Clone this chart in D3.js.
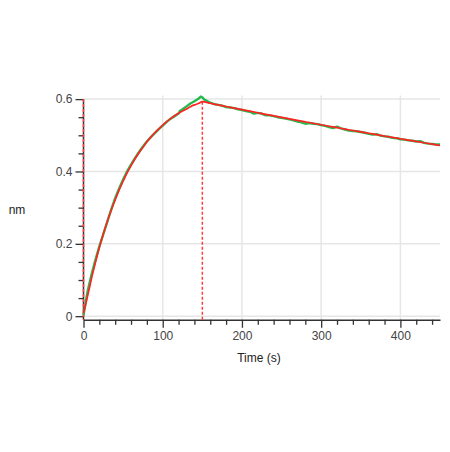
<!DOCTYPE html>
<html><head><meta charset="utf-8">
<script src="https://cdn.jsdelivr.net/npm/d3@7"></script>
<style>body{margin:0;background:#fff}svg{display:block}</style>
</head><body>
<script>
// Fit curve (red)
const fitTime = [0,5,10,15,20,25,30,35,40,45,50,55,60,65,70,75,80,85,90,95,100,105,110,115,120,125,130,135,140,145,150,
  160,170,180,190,200,210,220,230,240,250,260,270,280,290,300,310,320,330,340,350,360,370,380,390,400,410,420,430,440,450];
const fitValue = [0.008,0.054,0.103,0.148,0.190,0.227,0.262,0.293,0.322,0.349,0.373,0.396,0.416,0.435,0.452,0.467,0.482,0.495,0.507,0.518,0.528,0.538,0.546,0.554,0.561,0.567,0.573,0.579,0.584,0.588,0.593,
  0.5885,0.584,0.5796,0.5752,0.5709,0.5666,0.5623,0.558,0.5538,0.5496,0.5455,0.5414,0.5373,0.5332,0.5291,0.5251,0.5212,0.5172,0.5133,0.5094,0.5056,0.5017,0.4979,0.4942,0.4904,0.4867,0.483,0.4794,0.4757,0.4721];
// Measured data (green)
const dataTime = [0,5,10,15,20,25,30,35,40,45,50,55,60,65,70,75,80,85,90,95,100,105,110,115,120,122,125,130,135,140,145,148,150,153,
  155,160,165,170,175,180,185,190,195,200,205,210,215,220,225,230,235,240,245,250,255,260,265,270,275,280,285,290,295,300,
  305,310,315,320,325,330,335,340,345,350,355,360,365,370,375,380,385,390,395,400,405,410,415,420,425,430,435,440,445,450];
const dataValue = [0.003,0.067,0.114,0.155,0.193,0.227,0.261,0.295,0.326,0.353,0.378,0.400,0.419,0.437,0.453,0.469,0.483,0.495,0.506,0.517,0.527,0.537,0.546,0.553,0.560,0.568,0.572,0.580,0.588,0.594,0.601,0.607,0.605,0.598,
  0.596,0.590,0.586,0.584,0.582,0.578,0.577,0.575,0.572,0.570,0.567,0.565,0.560,0.562,0.560,0.555,0.555,0.553,0.550,0.548,0.546,0.544,0.541,0.538,0.536,0.532,0.534,0.532,0.531,0.528,
  0.526,0.523,0.520,0.524,0.519,0.516,0.513,0.512,0.511,0.509,0.507,0.504,0.502,0.503,0.499,0.497,0.496,0.493,0.492,0.489,0.488,0.486,0.485,0.483,0.484,0.479,0.477,0.476,0.475,0.475];
const xTicks = [0,100,200,300,400];
const xMinorTicks = [20,40,60,80,120,140,160,180,220,240,260,280,320,340,360,380,420,440];
const yTicks = [0,0.2,0.4,0.6];
const yTickLabels = ["0","0.2","0.4","0.6"];
const yMinorTicks = [0.05,0.1,0.15,0.25,0.3,0.35,0.45,0.5,0.55];
const markerTimes = [0,150];
const markerTops = [0.6,0.593];
const xLabel = "Time (s)";
const yLabel = "nm";

const W = 450, H = 452;
const svg = d3.select("body").append("svg").attr("width", W).attr("height", H);
const x = d3.scaleLinear().domain([0,450]).range([83.5,440]);
const y = d3.scaleLinear().domain([-0.01,0.61]).range([319.8,95.5]);
const axisColor = "#333";

// gridlines
const g = svg.append("g");
g.selectAll("line.gx").data(xTicks.filter(d=>d>0)).enter().append("line")
  .attr("x1",d=>x(d)).attr("x2",d=>x(d)).attr("y1",y(-0.01)).attr("y2",y(0.61))
  .attr("stroke","#e6e6e6").attr("stroke-width",1.5);
g.selectAll("line.gy").data(yTicks).enter().append("line")
  .attr("x1",x(0)).attr("x2",x(450)).attr("y1",d=>y(d)).attr("y2",d=>y(d))
  .attr("stroke","#e6e6e6").attr("stroke-width",1.5);

// axes
svg.append("g").attr("transform",`translate(0,${y(-0.01)})`)
  .call(d3.axisBottom(x).tickValues(xTicks).tickSize(8).tickSizeOuter(0).tickPadding(4).tickFormat(d3.format("d")));
svg.append("g").attr("transform",`translate(0,${y(-0.01)})`)
  .call(d3.axisBottom(x).tickValues(xMinorTicks).tickSize(5).tickSizeOuter(0).tickFormat(""))
  .select(".domain").remove();
const yAxis = svg.append("g").attr("transform",`translate(${x(0)},0)`)
  .call(d3.axisLeft(y).tickValues(yTicks).tickSize(8).tickSizeOuter(0).tickPadding(3).tickFormat((d,i)=>yTickLabels[i]));
svg.append("g").attr("transform",`translate(${x(0)},0)`)
  .call(d3.axisLeft(y).tickValues(yMinorTicks).tickSize(5).tickSizeOuter(0).tickFormat(""))
  .select(".domain").remove();
yAxis.select(".domain").attr("d",`M0,${y(0.6)}V${y(-0.01)}`);
svg.selectAll(".domain").attr("stroke",axisColor).attr("stroke-width",1.5);
svg.selectAll(".tick line").attr("stroke",axisColor).attr("stroke-width",1.3);
svg.selectAll(".tick text").attr("fill","#444").attr("font-family","Liberation Sans, Arial, sans-serif").attr("font-size",12);

// marker lines
svg.selectAll("line.mk").data(markerTimes).enter().append("line")
  .attr("x1",d=>x(d)).attr("x2",d=>x(d)).attr("y1",(d,i)=>y(markerTops[i])).attr("y2",y(-0.01))
  .attr("stroke","#ff3b3b").attr("stroke-width",1.5).attr("stroke-dasharray","3,2");

// curves
const dataPts = dataTime.map((t,i)=>[t,dataValue[i]]);
const fitPts = fitTime.map((t,i)=>[t,fitValue[i]]);
const line = d3.line().x(d=>x(d[0])).y(d=>y(d[1]));
svg.append("path").datum(dataPts).attr("d",line).attr("fill","none").attr("stroke","#27b84e").attr("stroke-width",2.4).attr("stroke-linejoin","round");
svg.append("path").datum(fitPts).attr("d",d3.line().curve(d3.curveMonotoneX).x(d=>x(d[0])).y(d=>y(d[1])))
  .attr("fill","none").attr("stroke","#ff2424").attr("stroke-width",1.7);

// labels
svg.append("text").attr("x",259).attr("y",362).attr("text-anchor","middle")
  .attr("font-family","Liberation Sans, Arial, sans-serif").attr("font-size",12).attr("fill","#222").text(xLabel);
svg.append("text").attr("x",17).attr("y",214).attr("text-anchor","middle")
  .attr("font-family","Liberation Sans, Arial, sans-serif").attr("font-size",12).attr("fill","#222").text(yLabel);
</script>
</body></html>
